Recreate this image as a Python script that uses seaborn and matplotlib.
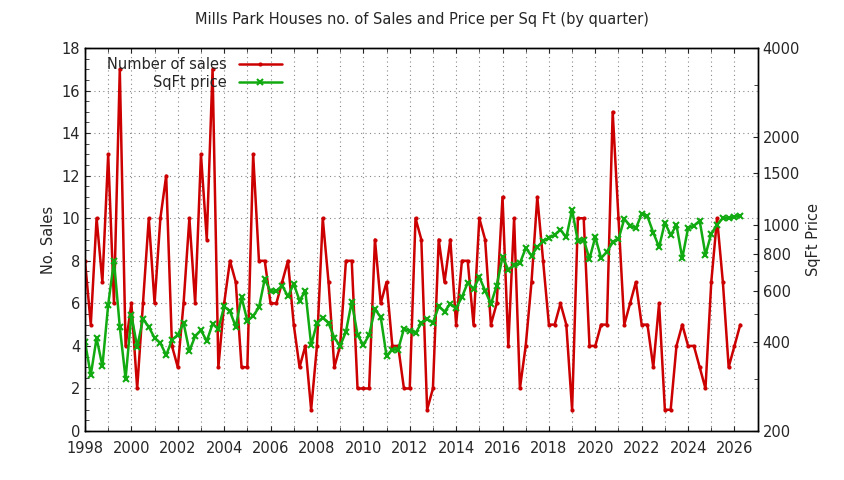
import matplotlib
matplotlib.use("Agg")
import matplotlib.pyplot as plt
import matplotlib.ticker as mticker
import numpy as np
import pandas as pd
import seaborn as sns

sales = [8, 5, 10, 7, 13, 6, 17, 4, 6, 2, 6, 10, 6, 10, 12, 4, 3, 6, 10, 6,
         13, 9, 17, 3, 6, 8, 7, 3, 3, 13, 8, 8, 6, 6, 7, 8, 5, 3, 4, 1,
         4, 10, 7, 3, 4, 8, 8, 2, 2, 2, 9, 6, 7, 4, 4, 2, 2, 10, 9, 1,
         2, 9, 7, 9, 5, 8, 8, 5, 10, 9, 5, 6, 11, 4, 10, 2, 4, 7, 11, 8,
         5, 5, 6, 5, 1, 10, 10, 4, 4, 5, 5, 15, 10, 5, 6, 7, 5, 5, 3, 6,
         1, 1, 4, 5, 4, 4, 3, 2, 7, 10, 7, 3, 4, 5]
price = [402, 310, 414, 332, 537, 757, 452, 301, 496, 386, 480, 452, 414, 398, 362, 408,
         424, 466, 374, 420, 440, 404, 462, 445, 530, 510, 452, 570, 473, 492, 526, 657,
         596, 596, 624, 573, 632, 555, 598, 392, 465, 486, 465, 415, 389, 435, 550, 424,
         392, 424, 519, 487, 360, 378, 378, 445, 438, 430, 465, 480, 467, 530, 509, 541,
         523, 570, 638, 607, 667, 600, 540, 624, 780, 706, 730, 743, 836, 789, 843, 881,
         906, 928, 966, 909, 1129, 881, 893, 769, 912, 773, 813, 874, 897, 1050, 998, 975,
         1094, 1071, 944, 843, 1021, 926, 1001, 773, 978, 996, 1036, 794, 936, 1004, 1057, 1057,
         1066, 1079]
quarters = 1998 + np.arange(len(sales)) / 4.0

df = pd.DataFrame({"quarter": quarters, "sales": sales, "price": price})

sns.set_style("ticks")
plt.rcParams['font.family'] = ['DejaVu Sans']
plt.rcParams['font.size'] = 10.5

fig = plt.figure(figsize=(8.44, 4.8), dpi=100)
ax = fig.add_axes([0.1007, 0.102, 0.797, 0.798])
ax2 = ax.twinx()

red = "#cc0000"
green = "#11aa11"
sns.lineplot(data=df, x="quarter", y="sales", ax=ax, color=red, lw=1.8, linestyle="-",
             marker="o", markersize=3, markeredgewidth=0, label="Number of sales", legend=False)
sns.lineplot(data=df, x="quarter", y="price", ax=ax2, color=green, lw=1.8, linestyle="-",
             marker="x", markersize=4, markeredgewidth=1.5, markeredgecolor=green,
             label="SqFt price", legend=False)
for line in ax2.get_lines():
    line.set_linestyle("-")

ax.set_xlim(1998, 2027)
ax.set_ylim(0, 18)
ax.xaxis.set_major_locator(mticker.MultipleLocator(2))
ax.xaxis.set_minor_locator(mticker.MultipleLocator(1))
ax.yaxis.set_major_locator(mticker.MultipleLocator(2))
ax.yaxis.set_minor_locator(mticker.MultipleLocator(0.5))
ax.tick_params(which="both", direction="in", top=True)
ax.tick_params(which="minor", length=3)
ax.tick_params(axis="x", pad=7)
ax.grid(True, which="major", linestyle=(0, (1, 3)), color="#888888", lw=0.8)
ax.grid(True, which="minor", axis="x", linestyle=(0, (1, 3)), color="#888888", lw=0.8)
ax.set_xlabel("")
ax.set_ylabel("No. Sales")

ax2.set_yscale("log")
ax2.set_ylim(200, 4000)
ax2.yaxis.set_major_locator(mticker.FixedLocator([200, 400, 600, 800, 1000, 1500, 2000, 4000]))
ax2.yaxis.set_major_formatter(mticker.FormatStrFormatter("%d"))
ax2.yaxis.set_minor_locator(mticker.FixedLocator([300, 500, 700, 900, 3000]))
ax2.yaxis.set_minor_formatter(mticker.NullFormatter())
ax2.tick_params(which="both", direction="in")
ax2.tick_params(which="minor", length=3)
ax2.set_ylabel("SqFt Price")

for a in (ax, ax2):
    for s in a.spines.values():
        s.set_linewidth(1.0)
        s.set_color("black")

h1, lab1 = ax.get_legend_handles_labels()
h2, lab2 = ax2.get_legend_handles_labels()
for h in h1 + h2:
    h.set_linestyle("-")
ax.legend(h1 + h2, lab1 + lab2, loc="upper left", bbox_to_anchor=(0.02, 1.0), frameon=False,
          markerfirst=False, handlelength=3, borderaxespad=0.2, labelspacing=0.2)

fig.suptitle("Mills Park Houses no. of Sales and Price per Sq Ft (by quarter)", y=0.975, fontsize=10.5)
fig.savefig("out.png", dpi=100)
